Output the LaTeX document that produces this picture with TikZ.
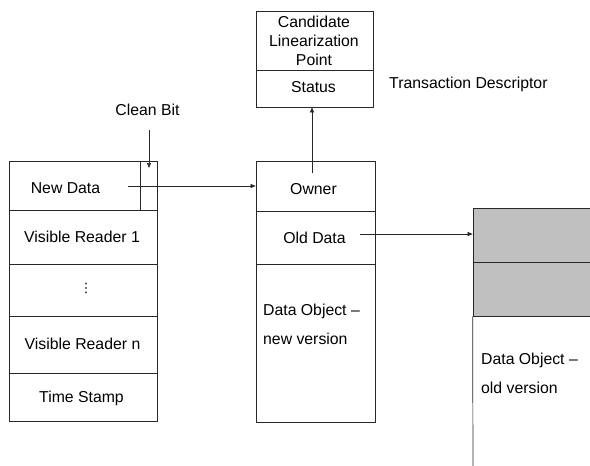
\documentclass[tikz,border=0pt]{standalone}
\usepackage{fontspec}
\setmainfont{Liberation Sans}
\newfontfamily\symfont{DejaVu Sans}
\usetikzlibrary{arrows.meta}
\definecolor{shade}{RGB}{192,192,192}
\definecolor{edge}{RGB}{40,40,40}
\newcommand{\lblfont}{\fontsize{15.8}{19}\selectfont}
\tikzset{
  cell/.style={draw=edge, line width=0.7pt, inner sep=0pt, minimum width=#1},
  lbl/.style={font=\lblfont, inner sep=0pt, text height=11.3pt, text depth=0pt},
  para/.style={font=\fontsize{15.8}{29}\selectfont, inner sep=0pt, align=left},
  arr/.style={draw=edge, line width=0.6pt, -{Triangle[length=5pt,width=4pt]}},
}
\begin{document}
\begin{tikzpicture}[x=1pt,y=-1pt]
\useasboundingbox (0,0) rectangle (590,466);
\clip (0,0) rectangle (590,466);

% ---- object header (left) ----
\node[cell=131pt, minimum height=49pt] (newdata) at (74.5,185.5) {};
\node[cell=17pt,  minimum height=49pt] (cleanbit) at (148.5,185.5) {};
\node[cell=148pt, minimum height=54pt] (reader1) at (83,237) {};
\node[cell=148pt, minimum height=52pt] (dots) at (83,290) {};
\node[cell=148pt, minimum height=57pt] (readern) at (83,344.5) {};
\node[cell=148pt, minimum height=48pt] (stamp) at (83,397) {};

\node[lbl] (tnd) at (65.5,188) {New Data};
\node[lbl] at (82,237) {Visible Reader 1};
\node[inner sep=0pt, font=\symfont\fontsize{13}{13}\selectfont] at (86,288) {⋮};
\node[lbl] at (82.5,344) {Visible Reader n};
\node[lbl] at (81.5,397) {Time Stamp};

\node[lbl] (tcb) at (147.5,110) {Clean Bit};
\coordinate (cbtail) at (149,130);
\coordinate (cbhead) at (149,168);
\draw[arr] (cbtail) -- (cbhead);

% ---- transaction descriptor (top) ----
\node[cell=117pt, minimum height=59pt] (cand) at (314.5,40.5) {};
\node[cell=117pt, minimum height=37pt] (status) at (314.5,88.5) {};
\node[font=\lblfont, inner sep=0pt, align=center] at (314,41) {Candidate\\Linearization\\Point};
\node[lbl] at (313.5,87) {Status};
\node[lbl, anchor=west] at (389,83) {Transaction Descriptor};

% ---- data object, new version (middle) ----
\node[cell=119pt, minimum height=50pt] (owner) at (315.5,186) {};
\node[cell=119pt, minimum height=53pt] (olddata) at (315.5,237.5) {};
\node[cell=119pt, minimum height=158pt] (newbody) at (315.5,343) {};
\node[lbl] at (313.5,189) {Owner};
\node[lbl] at (314.5,238) {Old Data};
\node[para, anchor=west] at (263,324.5) {Data Object --\\new version};

% ---- data object, old version (right) ----
\node[cell=130pt, minimum height=54pt, fill=shade] (old1) at (538,235) {};
\node[cell=130pt, minimum height=54pt, fill=shade] (old2) at (538,289) {};
\coordinate (oldbottom) at (473,470);
\draw[draw=edge, line width=0.7pt] (old2.south west) -- (oldbottom);
\node[para, anchor=west] at (481,373.5) {Data Object --\\old version};

% ---- pointers ----
\coordinate (ndtail) at (128,186);
\draw[arr] (ndtail) -- (ndtail -| owner.west);
\coordinate (odtail) at (360,234);
\draw[arr] (odtail) -- (odtail -| old1.west);
\coordinate (owtail) at (312,173);
\draw[arr] (owtail) -- (owtail |- status.south);
\end{tikzpicture}
\end{document}
